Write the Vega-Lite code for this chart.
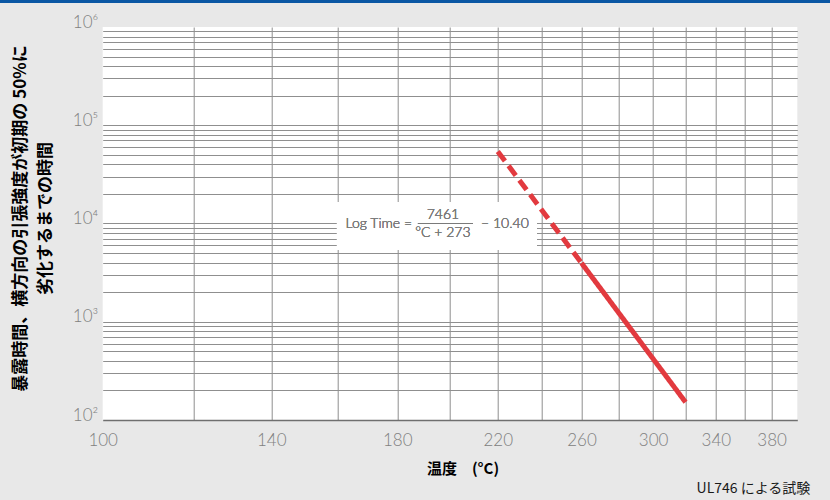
{
  "$schema": "https://vega.github.io/schema/vega-lite/v6.json",
  "width": 694.6,
  "height": 393,
  "autosize": {"type": "none"},
  "padding": {"left": 102.7, "top": 27, "right": 32.7, "bottom": 80},
  "background": "#e8e8e8",
  "config": {
    "view": {"fill": "white", "stroke": null},
    "font": "Liberation Sans"
  },
  "title": {
    "text": "UL746 による試験",
    "orient": "bottom",
    "anchor": "end",
    "frame": "group",
    "font": "Noto Sans CJK JP",
    "fontSize": 14,
    "fontWeight": "normal",
    "color": "#1a1a1a",
    "dx": 13,
    "offset": 6
  },
  "data": {
    "values": [
      {"temp": 220, "hours": 54190, "part": "extrapolated"},
      {"temp": 260, "hours": 3964, "part": "extrapolated"},
      {"temp": 260, "hours": 3964, "part": "measured"},
      {"temp": 320, "hours": 152, "part": "measured"}
    ]
  },
  "layer": [
    {
      "mark": {"type": "rect", "fill": "#0b57a4", "clip": false},
      "encoding": {
        "x": {
          "datum": 50,
          "type": "quantitative",
          "scale": {"type": "log", "domain": [100, 400], "nice": false},
          "axis": {
            "values": [100, 120, 140, 160, 180, 200, 220, 240, 260, 280, 300, 320, 340, 360, 380],
            "labelExpr": "indexof([100,140,180,220,260,300,340,380], datum.value) >= 0 ? datum.value + '' : ''",
            "grid": true,
            "gridColor": {"condition": {"test": "datum.value == 100", "value": "transparent"}, "value": "#8f8f8f"},
            "gridWidth": 1,
            "domain": true,
            "domainColor": "#6f6f6f",
            "domainWidth": 1.5,
            "ticks": false,
            "labelPadding": 12,
            "labelFont": "Lato",
            "labelFontWeight": 300,
            "labelFontSize": 17,
            "labelColor": "#808080",
            "labelOverlap": false,
            "labelFlush": false,
            "labelBound": false,
            "title": "温度　(°C)",
            "titleFont": "Noto Sans CJK JP",
            "titleFontSize": 15,
            "titleFontWeight": "bold",
            "titleColor": "#000000",
            "titleX": 359.8,
            "titleY": 48,
            "titleBaseline": "middle",
            "titleAnchor": null,
            "titleAlign": "center"
          }
        },
        "x2": {"datum": 600},
        "y": {
          "datum": 5000000,
          "type": "quantitative",
          "scale": {"type": "log", "domain": [100, 1000000], "nice": false},
          "axis": {
            "values": [100, 200, 300, 400, 500, 600, 700, 800, 900, 1000, 2000, 3000, 4000, 5000, 6000, 7000, 8000, 9000, 10000, 20000, 30000, 40000, 50000, 60000, 70000, 80000, 90000, 100000, 200000, 300000, 400000, 500000, 600000, 700000, 800000, 900000, 1000000],
            "labelExpr": "datum.value == 100 ? '10²' : datum.value == 1000 ? '10³' : datum.value == 10000 ? '10⁴' : datum.value == 100000 ? '10⁵' : datum.value == 1000000 ? '10⁶' : ''",
            "grid": true,
            "gridColor": {"condition": {"test": "datum.value == 1000000 || datum.value == 100", "value": "transparent"}, "value": "#8f8f8f"},
            "gridWidth": 1,
            "domain": false,
            "ticks": false,
            "labelPadding": 5,
            "labelBaseline": "alphabetic",
            "labelFont": "Lato",
            "labelFontWeight": 300,
            "labelFontSize": 17,
            "labelColor": "#808080",
            "labelOverlap": false,
            "labelFlush": false,
            "labelBound": false,
            "title": ["暴露時間、横方向の引張強度が初期の 50%に", "劣化するまでの時間"],
            "titleFont": "Noto Sans CJK JP",
            "titleFontSize": 17,
            "titleFontWeight": "bold",
            "titleColor": "#000000",
            "titleAngle": 270,
            "titleX": -82,
            "titleY": 191,
            "titleAlign": "center",
            "titleBaseline": "middle",
            "titleAnchor": null,
            "titleLineHeight": 25
          }
        },
        "y2": {"datum": 1755000}
      }
    },
    {
      "mark": {"type": "rect", "fill": "white"},
      "encoding": {
        "x": {"datum": 159.6},
        "x2": {"datum": 237.9},
        "y": {"datum": 16550},
        "y2": {"datum": 5375}
      }
    },
    {
      "mark": {"type": "line", "color": "#e23a3f", "strokeWidth": 5, "strokeCap": "butt"},
      "encoding": {
        "x": {"field": "temp", "type": "quantitative"},
        "y": {"field": "hours", "type": "quantitative"},
        "strokeDash": {
          "field": "part",
          "type": "nominal",
          "scale": {"domain": ["extrapolated", "measured"], "range": [[12, 6], [1, 0]]},
          "legend": null
        }
      }
    },
    {
      "mark": {"type": "text", "text": "Log Time =", "align": "right", "baseline": "middle", "font": "Lato", "fontWeight": 300, "fontSize": 14, "color": "#7a7a7a"},
      "encoding": {"x": {"datum": 185.4}, "y": {"datum": 10000}}
    },
    {
      "mark": {"type": "text", "text": "7461", "align": "center", "baseline": "middle", "font": "Lato", "fontWeight": 300, "fontSize": 14, "color": "#7a7a7a"},
      "encoding": {"x": {"datum": 197.2}, "y": {"datum": 12204}}
    },
    {
      "mark": {"type": "text", "text": "°C + 273", "align": "center", "baseline": "middle", "font": "Lato", "fontWeight": 300, "fontSize": 14, "color": "#7a7a7a"},
      "encoding": {"x": {"datum": 197.2}, "y": {"datum": 8004}}
    },
    {
      "mark": {"type": "rule", "color": "#7a7a7a", "strokeWidth": 1},
      "encoding": {"x": {"datum": 187.6}, "x2": {"datum": 209.4}, "y": {"datum": 10000}}
    },
    {
      "mark": {"type": "text", "text": "− 10.40", "align": "left", "baseline": "middle", "font": "Lato", "fontWeight": 300, "fontSize": 14, "color": "#7a7a7a"},
      "encoding": {"x": {"datum": 212.8}, "y": {"datum": 10000}}
    }
  ]
}
